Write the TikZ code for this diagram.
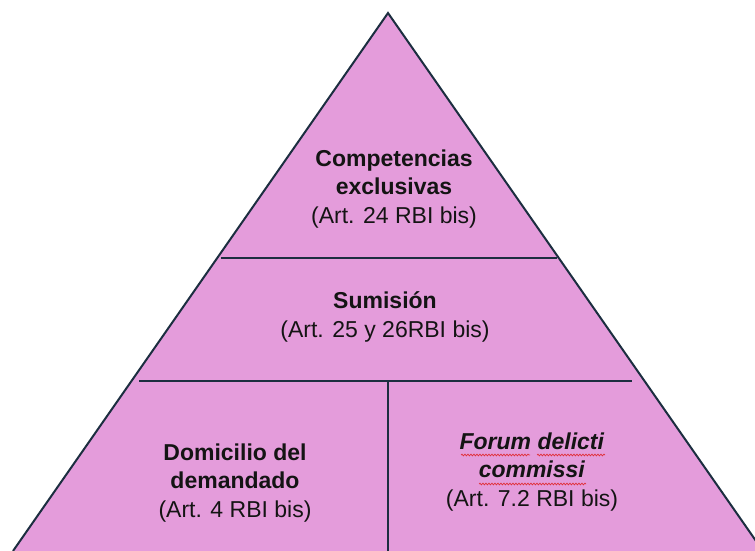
\documentclass[tikz,border=0pt]{standalone}
\usepackage{fontspec}
\setmainfont{Liberation Sans}
\usetikzlibrary{decorations.pathmorphing}
\definecolor{fillpink}{HTML}{E49CDB}
\definecolor{edgenavy}{HTML}{1C2E40}
\definecolor{txt}{HTML}{141414}
\definecolor{spell}{HTML}{E0303A}
\begin{document}
\begin{tikzpicture}[x=1pt,y=-1pt,
  lbl/.style={align=center,text=txt,font=\fontsize{23}{28.5}\selectfont,inner sep=0pt},
  edge/.style={draw=edgenavy,line width=2pt},
  squig/.style={draw=spell,line width=0.7pt,decorate,decoration={snake,amplitude=0.9pt,segment length=3pt}}]
\useasboundingbox (0,0) rectangle (755,551);
\clip (0,0) rectangle (755,551);
\coordinate (apex) at (388,13);
\coordinate (bl) at (13,551);
\coordinate (br) at (763,551);
\fill[fillpink] (bl) -- (apex) -- (br) -- cycle;
\draw[edge,line join=miter] (bl) -- (apex) -- (br);
\coordinate (h1a) at (221,258);
\coordinate (h1b) at (557,258);
\coordinate (h2a) at (139,381);
\coordinate (h2b) at (632,381);
\coordinate (va) at (388,381);
\coordinate (vb) at (388,560);
\draw[edge] (h1a) -- (h1b);
\draw[edge] (h2a) -- (h2b);
\draw[edge] (va) -- (vb);
\node[lbl] (t1) at (394,189) {\textbf{Competencias}\\\textbf{exclusivas}\\(Art. 24 RBI bis)};
\node[lbl] (t2) at (385,317) {\textbf{Sumisión}\\(Art. 25 y 26RBI bis)};
\node[lbl] (t3) at (235,483) {\textbf{Domicilio del}\\\textbf{demandado}\\(Art. 4 RBI bis)};
\node[lbl] (t4) at (532,472) {\textbf{\textit{Forum delicti}}\\\textbf{\textit{commissi}}\\(Art. 7.2 RBI bis)};
\coordinate (s1a) at (461,455);
\coordinate (s1b) at (530,455);
\coordinate (s2a) at (537,455);
\coordinate (s2b) at (605,455);
\coordinate (s3a) at (479,484);
\coordinate (s3b) at (586,484);
\draw[squig] (s1a) -- (s1b);
\draw[squig] (s2a) -- (s2b);
\draw[squig] (s3a) -- (s3b);
\end{tikzpicture}
\end{document}
